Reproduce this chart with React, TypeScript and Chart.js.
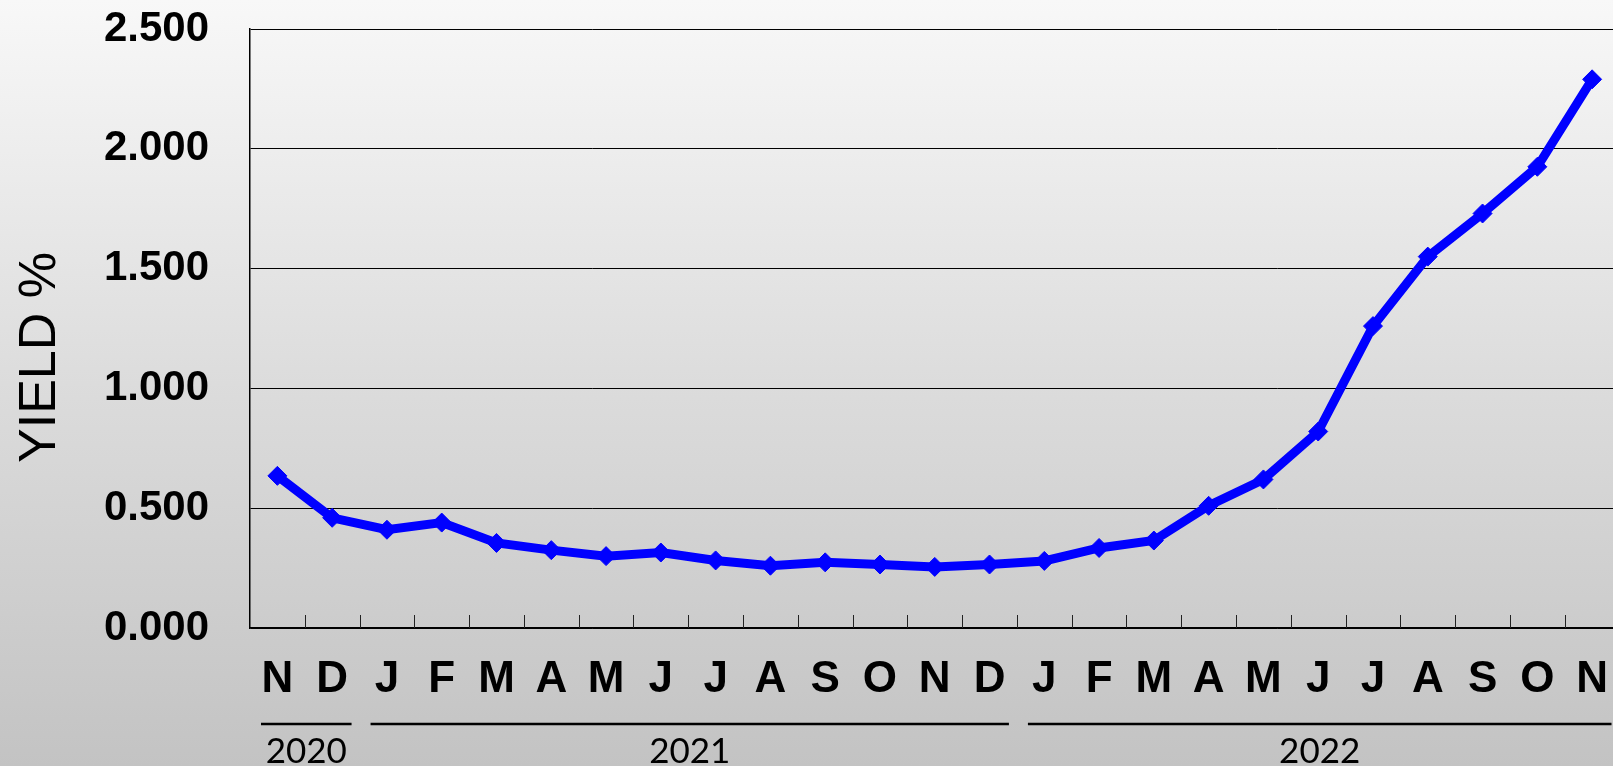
import React, { useEffect, useRef } from 'react';
import { Chart, registerables } from 'chart.js';

Chart.register(...registerables);

const monthLabels = ['N', 'D', 'J', 'F', 'M', 'A', 'M', 'J', 'J', 'A', 'S', 'O', 'N', 'D', 'J', 'F', 'M', 'A', 'M', 'J', 'J', 'A', 'S', 'O', 'N'];
const yieldValues = [0.635, 0.46, 0.41, 0.44, 0.355, 0.325, 0.3, 0.315, 0.282, 0.26, 0.274, 0.265, 0.255, 0.265, 0.28, 0.334, 0.365, 0.51, 0.62, 0.82, 1.26, 1.55, 1.73, 1.925, 2.29];
const yearLabels = ['2020', '2021', '2022'];
const yearFirstIndex = [0, 2, 14];
const yearLastIndex = [1, 13, 24];
const yMin = 0;
const yMax = 2.5;
const yStep = 0.5;
const axisTitle = 'YIELD %';

const decorPlugin = {
  id: 'decor',
  beforeDatasetsDraw(chart: any) {
    const { ctx, chartArea } = chart;
    const xs = chart.scales.x;
    const half = (xs.getPixelForValue(1) - xs.getPixelForValue(0)) / 2;
    ctx.save();
    ctx.strokeStyle = '#222';
    ctx.lineWidth = 1;
    for (let i = 1; i < monthLabels.length; i++) {
      const x = Math.round(xs.getPixelForValue(i) - half) + 0.5;
      ctx.beginPath();
      ctx.moveTo(x, chartArea.bottom - 13);
      ctx.lineTo(x, chartArea.bottom);
      ctx.stroke();
    }
    ctx.restore();
  },
  afterDraw(chart: any) {
    const { ctx, chartArea } = chart;
    const xs = chart.scales.x;
    const half = (xs.getPixelForValue(1) - xs.getPixelForValue(0)) / 2;
    ctx.save();
    ctx.strokeStyle = '#000';
    ctx.lineWidth = 2.5;
    ctx.fillStyle = '#000';
    ctx.font = '35px Lato, "DejaVu Sans", sans-serif';
    ctx.textAlign = 'center';
    ctx.textBaseline = 'alphabetic';
    for (let g = 0; g < yearLabels.length; g++) {
      const x1 = xs.getPixelForValue(yearFirstIndex[g]) - half + 11;
      const x2 = xs.getPixelForValue(yearLastIndex[g]) + half - 8;
      const ly = chartArea.bottom + 96;
      ctx.beginPath();
      ctx.moveTo(x1, ly);
      ctx.lineTo(x2, ly);
      ctx.stroke();
      ctx.fillText(yearLabels[g], (x1 + x2) / 2, chartArea.bottom + 135);
    }
    ctx.translate(55, (chartArea.top + chartArea.bottom) / 2 + 29);
    ctx.rotate(-Math.PI / 2);
    ctx.font = '52px "Liberation Sans", Arial, sans-serif';
    ctx.textAlign = 'center';
    ctx.textBaseline = 'alphabetic';
    ctx.fillText(axisTitle, 0, 0);
    ctx.restore();
  },
};

export default function App() {
  const canvasRef = useRef<HTMLCanvasElement | null>(null);

  useEffect(() => {
    const canvas = canvasRef.current;
    if (!canvas) return;
    const chart = new Chart(canvas, {
      type: 'line',
      data: {
        labels: monthLabels,
        datasets: [
          {
            data: yieldValues,
            borderColor: '#0000ff',
            backgroundColor: '#0000ff',
            borderWidth: 9,
            pointStyle: 'rectRot',
            pointRadius: 9.5,
            pointBorderWidth: 1,
            pointBackgroundColor: '#0000ff',
            pointBorderColor: '#0000ff',
            tension: 0,
            fill: false,
          },
        ],
      },
      options: {
        animation: false,
        responsive: false,
        devicePixelRatio: 1,
        layout: { padding: { left: 0, right: 5, top: 29, bottom: 0 } },
        plugins: {
          legend: { display: false },
          tooltip: { enabled: false },
          title: { display: false },
        },
        scales: {
          x: {
            type: 'category',
            offset: true,
            grid: {
              display: true,
              drawOnChartArea: false,
              drawTicks: true,
              tickLength: 30,
              tickColor: 'rgba(0,0,0,0)',
              offset: true,
            },
            border: { display: true, color: '#000', width: 1.5 },
            ticks: {
              color: '#000',
              padding: 0,
              maxRotation: 0,
              autoSkip: false,
              font: { family: '"Liberation Sans", Arial, sans-serif', size: 44, weight: 'bold', lineHeight: 1 },
            },
            afterFit: (s: any) => {
              s.height = 138;
            },
          },
          y: {
            min: yMin,
            max: yMax,
            grid: { color: '#000', lineWidth: 1, drawTicks: true, tickLength: 41, tickColor: 'rgba(0,0,0,0)' },
            border: { display: true, color: '#000', width: 1.5 },
            ticks: {
              stepSize: yStep,
              color: '#000',
              padding: 0,
              font: { family: '"Liberation Sans", Arial, sans-serif', size: 42, weight: 'bold' },
              callback: (v: any) => Number(v).toFixed(3),
            },
            afterFit: (s: any) => {
              s.width = 250;
            },
          },
        },
      },
      plugins: [decorPlugin],
    });
    return () => chart.destroy();
  }, []);

  return (
    <div
      style={{
        position: 'fixed',
        left: 0,
        top: 0,
        width: 1613,
        height: 766,
        overflow: 'hidden',
        background: 'linear-gradient(to bottom, #f8f8f8 0%, #dcdcdc 50%, #c3c3c3 100%)',
      }}
    >
      <canvas ref={canvasRef} width={1630} height={766} style={{ width: 1630, height: 766, display: 'block' }} />
    </div>
  );
}
